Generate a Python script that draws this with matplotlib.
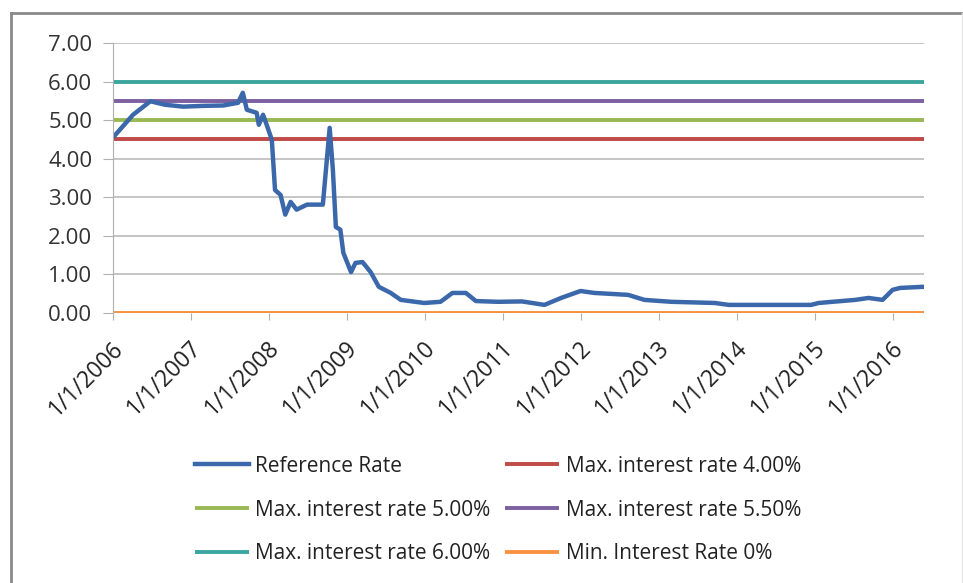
import pandas as pd
import matplotlib
matplotlib.use("Agg")
import matplotlib.pyplot as plt
import matplotlib.dates as mdates
from matplotlib.lines import Line2D
from matplotlib.transforms import ScaledTranslation

plt.rcParams['font.family'] = ['Open Sans', 'DejaVu Sans']

# Reference rate
ref_dates = [
    "2006-01-01", "2006-04-05", "2006-06-25", "2006-09-01", "2006-11-25",
    "2007-03-01", "2007-06-01", "2007-08-10", "2007-09-01", "2007-09-20",
    "2007-11-05", "2007-11-15", "2007-12-05", "2007-12-25", "2008-01-15",
    "2008-01-30", "2008-02-25", "2008-03-18", "2008-04-12", "2008-05-10",
    "2008-06-28", "2008-09-10", "2008-10-12", "2008-10-27", "2008-11-10",
    "2008-12-01", "2008-12-15", "2009-01-20", "2009-02-10", "2009-03-15",
    "2009-04-22", "2009-05-30", "2009-07-25", "2009-09-10", "2009-12-28",
    "2010-03-15", "2010-05-10", "2010-07-12", "2010-08-28", "2010-12-10",
    "2011-04-01", "2011-07-15", "2011-10-01", "2011-12-31", "2012-03-05",
    "2012-08-10", "2012-10-25", "2013-03-01", "2013-09-20", "2013-11-25",
    "2014-12-15", "2015-01-20", "2015-07-10", "2015-09-10", "2015-11-15",
    "2016-01-01", "2016-02-05", "2016-05-27",
]
ref_rate = [
    4.55, 5.14, 5.49, 5.40, 5.35,
    5.37, 5.38, 5.45, 5.71, 5.27,
    5.19, 4.88, 5.14, 4.83, 4.49,
    3.19, 3.06, 2.55, 2.88, 2.68,
    2.81, 2.81, 4.80, 3.71, 2.23,
    2.16, 1.56, 1.06, 1.30, 1.32,
    1.06, 0.68, 0.52, 0.34, 0.26,
    0.29, 0.52, 0.52, 0.31, 0.29,
    0.30, 0.21, 0.39, 0.57, 0.52,
    0.47, 0.34, 0.29, 0.26, 0.21,
    0.21, 0.26, 0.34, 0.39, 0.34,
    0.60, 0.65, 0.68,
]

# constant limit series
limit_labels = ["Max. interest rate 4.00%", "Max. interest rate 5.00%",
                "Max. interest rate 5.50%", "Max. interest rate 6.00%",
                "Min. Interest Rate 0%"]
limit_values = [4.5, 5.0, 5.5, 6.0, 0.0]
limit_colors = ["#BE4B48", "#98B954", "#7D60A0", "#3AA69E", "#F69240"]

y_ticks = [0, 1, 2, 3, 4, 5, 6, 7]
x_tick_years = list(range(2006, 2017))

dates = pd.to_datetime(ref_dates)

fig = plt.figure(figsize=(9.63, 5.83), dpi=100)
ax = fig.add_axes([113 / 963, 1 - 313 / 583, (924 - 113) / 963, 270 / 583])

ax.set_axisbelow(True)
ax.yaxis.grid(True, color="#c0c0c0", linewidth=1.3)

handles = {}
for lab, val, col in zip(limit_labels, limit_values, limit_colors):
    h, = ax.plot(dates, [val] * len(dates), color=col, linewidth=2.8,
                 solid_capstyle="butt")
    handles[lab] = h
h_ref, = ax.plot(dates, ref_rate, color="#3B68AA", linewidth=3.2,
                 solid_joinstyle="round")
handles["Reference Rate"] = h_ref

ax.set_xlim(dates[0], dates[-1])
ax.set_ylim(0, 7)
ax.set_yticks(y_ticks)
ax.set_yticklabels([f"{v:.2f}" for v in y_ticks])
ax.set_xticks(pd.to_datetime([f"{y}-01-01" for y in x_tick_years]))
ax.xaxis.set_major_formatter(mdates.DateFormatter("1/1/%Y"))

for s in ["top", "right", "bottom"]:
    ax.spines[s].set_visible(False)
ax.spines["left"].set_color("#b0b0b0")

ax.tick_params(axis="y", length=7, color="#b0b0b0", labelsize=16,
               pad=8, labelcolor="#333333")
ax.tick_params(axis="x", length=5, color="#b0b0b0", labelsize=16.5,
               pad=18, labelcolor="#222222")
shift = ScaledTranslation(5 / 72, 0, fig.dpi_scale_trans)
for t in ax.get_xticklabels():
    t.set_rotation(45)
    t.set_ha("right")
    t.set_va("center")
    t.set_rotation_mode("anchor")
    t.set_transform(t.get_transform() + shift)

# legend filled row by row like Excel
order = ["Reference Rate", "Max. interest rate 5.00%", "Max. interest rate 6.00%",
         "Max. interest rate 4.00%", "Max. interest rate 5.50%", "Min. Interest Rate 0%"]
fig.legend([handles[k] for k in order], order, ncol=2, frameon=False,
           loc="center", bbox_to_anchor=(498 / 963, 1 - 510 / 583),
           fontsize=15, handlelength=2.6, handletextpad=0.3,
           columnspacing=0.7, labelspacing=1.1, labelcolor="#222222")

# outer chart border
fig.add_artist(Line2D([11 / 963, 11 / 963], [0, 1 - 13 / 583],
                      transform=fig.transFigure, color="#8a8a8a", linewidth=2))
fig.add_artist(Line2D([11 / 963, 962 / 963], [1 - 13 / 583, 1 - 13 / 583],
                      transform=fig.transFigure, color="#8a8a8a", linewidth=2))
fig.add_artist(Line2D([962 / 963, 962 / 963], [0, 1 - 13 / 583],
                      transform=fig.transFigure, color="#e4e4e4", linewidth=1))

fig.savefig("out.png", dpi=100)
